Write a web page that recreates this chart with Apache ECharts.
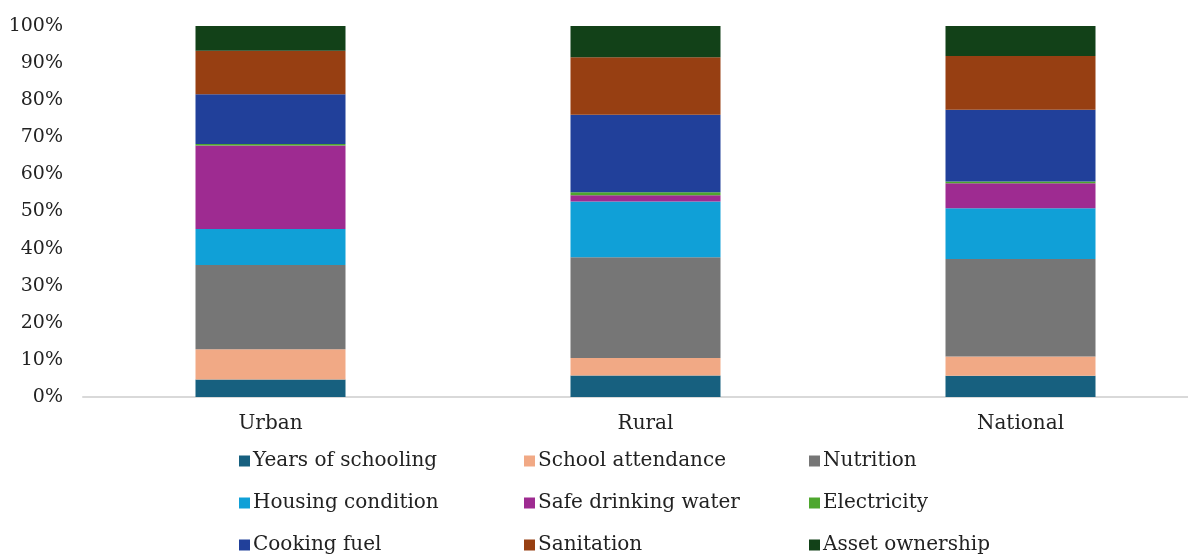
<!DOCTYPE html>
<html>
<head>
<meta charset="utf-8">
<script src="https://cdn.jsdelivr.net/npm/echarts@6/dist/echarts.min.js"></script>
<style>
  html, body { margin: 0; padding: 0; background: #fff; }
  #main { width: 1188px; height: 557px; }
</style>
</head>
<body>
<div id="main"></div>
<script>
var areas = ['Urban', 'Rural', 'National'];
var indicators = ['Years of schooling', 'School attendance', 'Nutrition', 'Housing condition',
  'Safe drinking water', 'Electricity', 'Cooking fuel', 'Sanitation', 'Asset ownership'];
var colors = ['#17607f', '#f1a985', '#767676', '#10a0d7', '#9e2b91', '#4ea72e', '#21409a', '#973f12', '#124118'];

// share (%) of each indicator, order: Urban, Rural, National
var yearsSchooling = [4.7, 5.8, 5.7];
var schoolAttendance = [8.2, 4.7, 5.2];
var nutrition = [22.7, 27.2, 26.3];
var housing = [9.7, 15.0, 13.7];
var safeWater = [22.5, 1.7, 6.7];
var electricity = [0.4, 0.8, 0.5];
var cookingFuel = [13.4, 20.9, 19.3];
var sanitation = [11.7, 15.5, 14.5];
var assetOwnership = [6.7, 8.4, 8.1];
var yTicks = [0, 10, 20, 30, 40, 50, 60, 70, 80, 90, 100];

var values = [yearsSchooling, schoolAttendance, nutrition, housing, safeWater,
  electricity, cookingFuel, sanitation, assetOwnership];

var font = '"DejaVu Serif", "Liberation Serif", serif';

var myChart = echarts.init(document.getElementById('main'));

var series = indicators.map(function (name, i) {
  return {
    name: name,
    type: 'bar',
    stack: 'total',
    barWidth: 150,
    itemStyle: { color: colors[i] },
    data: values[i]
  };
});

// one legend per item, laid out 3 x 3
var legends = indicators.map(function (name, i) {
  return {
    left: 239 + (i % 3) * 285,
    top: 451 + Math.floor(i / 3) * 42,
    padding: 0,
    itemWidth: 11,
    itemHeight: 11,
    icon: 'rect',
    textStyle: { fontFamily: font, fontSize: 20, color: '#222', padding: [0, 0, 0, -2] },
    data: [name]
  };
});

var option = {
  animation: false,
  color: colors,
  grid: { left: 83, width: 1125, top: 26, bottom: 160, outerBoundsMode: 'none' },
  legend: legends,
  xAxis: {
    type: 'category',
    data: areas,
    axisLine: { lineStyle: { color: '#d9d9d9', width: 2 } },
    axisTick: { show: false },
    axisLabel: { fontFamily: font, fontSize: 20, color: '#222', margin: 17 }
  },
  yAxis: {
    type: 'value',
    min: yTicks[0],
    max: yTicks[yTicks.length - 1],
    interval: 10,
    splitLine: { show: false },
    axisLine: { show: false },
    axisTick: { show: false },
    axisLabel: {
      fontFamily: font, fontSize: 19, color: '#222', margin: 20,
      formatter: function (v) { return v + '%'; }
    }
  },
  series: series
};
myChart.setOption(option);
window.addEventListener('resize', function () {
  myChart.resize();
});
</script>
</body>
</html>
